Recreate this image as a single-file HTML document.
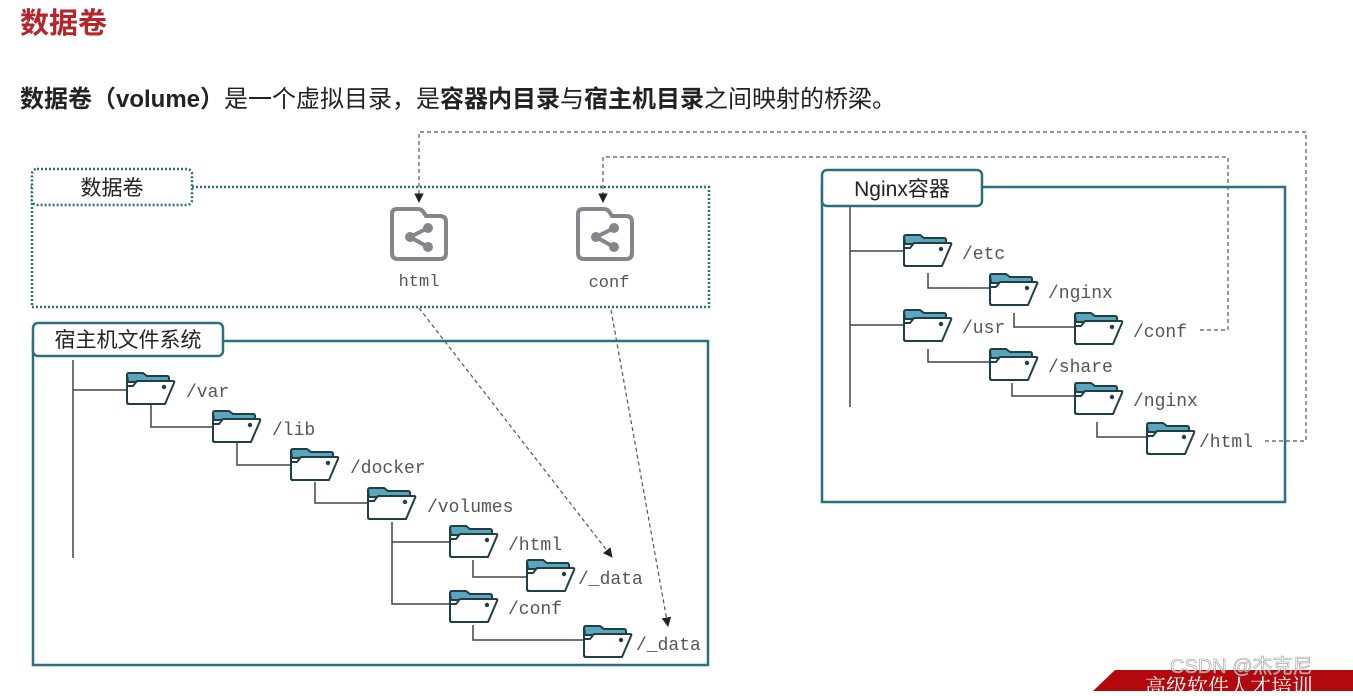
<!DOCTYPE html>
<html><head><meta charset="utf-8"><style>
body{margin:0;background:#fff;width:1353px;height:691px;overflow:hidden;font-family:"Liberation Sans","Noto Sans CJK SC",sans-serif}
</style></head><body>
<svg width="1353" height="691" viewBox="0 0 1353 691" xmlns="http://www.w3.org/2000/svg">
<defs>
<symbol id="fd" viewBox="0 0 52 34">
<path d="M2 4 Q2 2 4 2 L18 2 L22 5 L42 5 Q44 5 44 7 L44 11 L3 11 Z" fill="#5aa7bd" stroke="#1f3f46" stroke-width="2"/>
<path d="M2 4 L2 31 Q2 33 4 33 L40 33 L49 12 Q50 10 48 10 L12 10 L8 15 L2 15" fill="#fff" stroke="#1f3f46" stroke-width="2" stroke-linejoin="round"/>
<path d="M2 4 L2 31 Q2 33 4 33 L40 33" fill="none" stroke="#1f3f46" stroke-width="2"/>
<circle cx="39" cy="16" r="2.2" fill="#1f3f46"/>
</symbol>
<symbol id="sh" viewBox="0 0 62 56">
<path d="M4 8 Q4 3 9 3 L30 3 Q34 3 36 7 L38 10 L52 10 Q58 10 58 16 L58 47 Q58 53 52 53 L10 53 Q4 53 4 47 Z" fill="#fff" stroke="#85858c" stroke-width="4"/>
<circle cx="22" cy="31" r="5" fill="#85858c"/><circle cx="40" cy="22" r="5" fill="#85858c"/><circle cx="40" cy="41" r="5" fill="#85858c"/>
<path d="M22 31 L40 22 M22 31 L40 41" stroke="#85858c" stroke-width="4"/>
</symbol>
<marker id="ar" viewBox="0 0 10 10" refX="9" refY="5" markerWidth="8" markerHeight="8" orient="auto"><path d="M0 0 L10 5 L0 10 Z" fill="#222"/></marker>
</defs>

<text x="20" y="33" font-size="29" font-weight="bold" fill="#b4262a">数据卷</text>
<text x="20" y="107" font-size="24" fill="#222"><tspan font-weight="bold">数据卷（volume）</tspan>是一个虚拟目录，是<tspan font-weight="bold">容器内目录</tspan>与<tspan font-weight="bold">宿主机目录</tspan>之间映射的桥梁。</text>

<rect x="32" y="187" width="677" height="120" fill="none" stroke="#2e6f7e" stroke-width="2.5" stroke-dasharray="2 2"/>
<rect x="32" y="169" width="160" height="36" rx="5" fill="#fff" stroke="#2e6f7e" stroke-width="2.5" stroke-dasharray="2 2"/>
<text x="112" y="195" font-size="21" text-anchor="middle" fill="#222">数据卷</text>
<use href="#sh" x="388" y="206" width="62" height="56"/>
<use href="#sh" x="574" y="206" width="62" height="56"/>
<text x="419" y="286" font-size="17" text-anchor="middle" fill="#555" font-family="Liberation Mono,monospace">html</text>
<text x="609" y="287" font-size="17" text-anchor="middle" fill="#555" font-family="Liberation Mono,monospace">conf</text>

<g fill="none" stroke="#555" stroke-width="1.2" stroke-dasharray="4 3">
<path d="M1265 441 L1306 441 L1306 132 L419 132 L419 202" marker-end="url(#ar)"/>
<path d="M1200 330 L1228 330 L1228 157 L603 157 L603 202" marker-end="url(#ar)"/>
<path d="M419 308 L612 557" marker-end="url(#ar)"/>
<path d="M611 310 L668 626" marker-end="url(#ar)"/>
</g>

<rect x="33" y="341" width="675" height="324" fill="none" stroke="#2e6f7e" stroke-width="2.5"/>
<rect x="33" y="323" width="190" height="33" rx="5" fill="#fff" stroke="#2e6f7e" stroke-width="2.5"/>
<text x="128" y="347" font-size="21" text-anchor="middle" fill="#222">宿主机文件系统</text>
<g fill="none" stroke="#444" stroke-width="1.5">
<path d="M73 360 L73 558 M73 390 L126 390"/>
<path d="M151 405 L151 427 L212 427"/>
<path d="M237 443 L237 465 L290 465"/>
<path d="M315 482 L315 503 L367 503"/>
<path d="M392 522 L392 604 L449 604 M392 542 L449 542"/>
<path d="M473 560 L473 577 L526 577"/>
<path d="M473 625 L473 640 L583 640"/>
<path d="M850 207 L850 407 M850 251 L903 251 M850 325 L903 325"/>
<path d="M928 273 L928 288 L989 288"/>
<path d="M1014 313 L1014 327 L1074 327"/>
<path d="M928 349 L928 362 L989 362"/>
<path d="M1012 383 L1012 396 L1074 396"/>
<path d="M1097 422 L1097 437 L1146 437"/>
</g>
<g font-family="Liberation Mono,monospace" font-size="18" fill="#555">
<use href="#fd" x="125" y="371" width="52" height="34"/><text x="186" y="397">/var</text>
<use href="#fd" x="211" y="409" width="52" height="34"/><text x="272" y="435">/lib</text>
<use href="#fd" x="289" y="447" width="52" height="34"/><text x="350" y="473">/docker</text>
<use href="#fd" x="366" y="486" width="52" height="34"/><text x="427" y="512">/volumes</text>
<use href="#fd" x="448" y="524" width="52" height="34"/><text x="508" y="550">/html</text>
<use href="#fd" x="525" y="558" width="52" height="34"/><text x="578" y="584">/_data</text>
<use href="#fd" x="448" y="589" width="52" height="34"/><text x="508" y="614">/conf</text>
<use href="#fd" x="582" y="624" width="52" height="34"/><text x="636" y="650">/_data</text>

<use href="#fd" x="902" y="233" width="52" height="34"/><text x="962" y="259">/etc</text>
<use href="#fd" x="988" y="272" width="52" height="34"/><text x="1048" y="298">/nginx</text>
<use href="#fd" x="902" y="308" width="52" height="34"/><text x="962" y="333">/usr</text>
<use href="#fd" x="1073" y="311" width="52" height="34"/><text x="1133" y="337">/conf</text>
<use href="#fd" x="988" y="347" width="52" height="34"/><text x="1048" y="372">/share</text>
<use href="#fd" x="1073" y="381" width="52" height="34"/><text x="1133" y="406">/nginx</text>
<use href="#fd" x="1145" y="421" width="52" height="34"/><text x="1199" y="447">/html</text>
</g>

<rect x="822" y="187" width="463" height="315" fill="none" stroke="#2e6f7e" stroke-width="2.5"/>
<rect x="822" y="170" width="160" height="36" rx="5" fill="#fff" stroke="#2e6f7e" stroke-width="2.5"/>
<text x="902" y="196" font-size="21" text-anchor="middle" fill="#222">Nginx容器</text>

<polygon points="1093,691 1115,670 1353,670 1353,691" fill="#b3080d"/>
<text x="1145" y="694" font-size="21" fill="#fff" font-family="Liberation Serif,'Noto Serif CJK SC',serif">高级软件人才培训</text>
<text x="1170" y="673" font-size="20" fill="#fff" fill-opacity="0.6" stroke="#999" stroke-width="0.6">CSDN @杰克尼</text>
</svg>
</body></html>
